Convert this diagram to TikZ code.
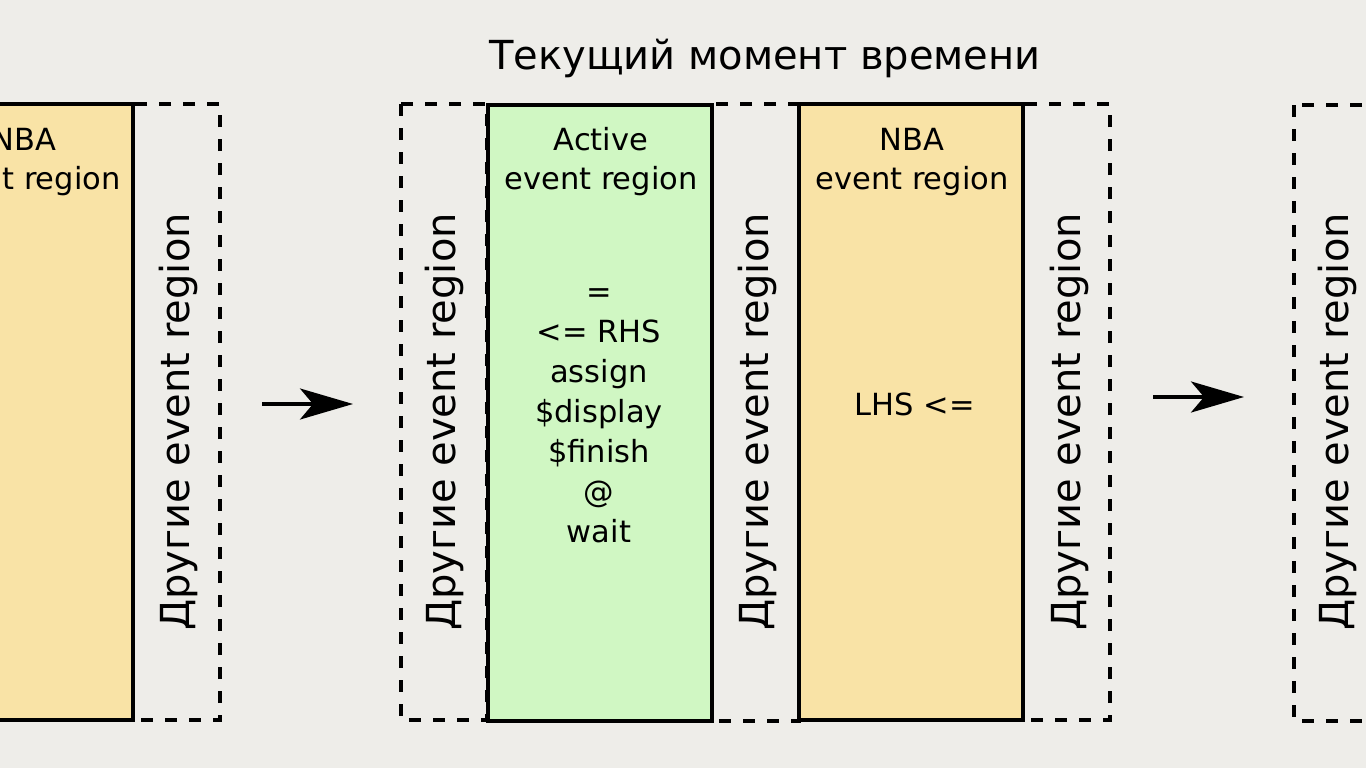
\documentclass[tikz,border=0pt]{standalone}
\usepackage{fontspec}
\setmainfont{DejaVu Sans}
\usetikzlibrary{arrows.meta}
\definecolor{bgc}{HTML}{EEEDE9}
\definecolor{greenc}{HTML}{D0F7C3}
\definecolor{orangec}{HTML}{F9E3A6}
\begin{document}
\begin{tikzpicture}[x=1pt,y=-1pt,
  dashbox/.style={draw, dash pattern=on 12pt off 12pt, line width=3.2pt, fill=none},
  solidbox/.style={draw, line width=3.2pt},
  txt/.style={anchor=base, inner sep=0pt, font=\fontsize{30.5}{36}\selectfont},
  vtxt/.style={anchor=base, inner sep=0pt, rotate=90, font=\fontsize{40}{48}\selectfont},
  arr/.style={line width=3.4pt, -{Stealth[length=53pt,width=31pt,inset=13pt]}}]
\useasboundingbox (0,0) rectangle (1366,768);
\clip (0,0) rectangle (1366,768);
\fill[bgc] (0,0) rectangle (1366,768);
% dashed regions
\draw[dashbox] (133,104) rectangle (220,720) node[pos=0.5] (d0) {};
\draw[dashbox] (401,104) rectangle (487,720) node[pos=0.5] (d1) {};
\draw[dashbox] (712,104) rectangle (799,721) node[pos=0.5] (d2) {};
\draw[dashbox] (1023,104) rectangle (1110,720) node[pos=0.5] (d3) {};
\draw[dashbox] (1294,105) rectangle (1420,721) node[pos=0.5] (d4) {};
% solid regions
\draw[solidbox, fill=orangec] (-91,104) rectangle (133,720) node[pos=0.5] (n0) {};
\draw[solidbox, fill=greenc] (488,105) rectangle (712,721) node[pos=0.5] (act) {};
\draw[solidbox, fill=orangec] (799,104) rectangle (1023,720) node[pos=0.5] (n1) {};
% title
\node[anchor=base, inner sep=0pt, font=\fontsize{40}{48}\selectfont] (title) at (765,70) {Текущий момент времени};
% left NBA
\node[txt] (n0a) at (24,150) {NBA};
\node[txt] (n0b) at (24,189) {event region};
% Active
\node[txt] (acta) at (601,150) {Active};
\node[txt] (actb) at (601,189) {event region};
\node[txt] (l1) at (599,302) {=};
\node[txt] (l2) at (599,342) {<= RHS};
\node[txt] (l3) at (599,382) {assign};
\node[txt] (l4) at (599,422) {\$display};
\node[txt] (l5) at (599,462) {\$finish};
\node[txt] (l6) at (599,502) {@};
\node[txt] (l7) at (599,542) {wait};
% NBA
\node[txt] (n1a) at (912,150) {NBA};
\node[txt] (n1b) at (912,189) {event region};
\node[txt] (n1c) at (915,415) {LHS <=};
% vertical labels
\node[vtxt] (v0) at (189,422) {Другие event region};
\node[vtxt] (v1) at (455,422) {Другие event region};
\node[vtxt] (v2) at (768,422) {Другие event region};
\node[vtxt] (v3) at (1080,422) {Другие event region};
\node[vtxt] (v4) at (1348,422) {Другие event region};
% arrows
\coordinate (a1s) at (262,404);
\coordinate (a1e) at (353,404);
\coordinate (a2s) at (1153,397);
\coordinate (a2e) at (1244,397);
\draw[arr] (a1s) -- (a1e);
\draw[arr] (a2s) -- (a2e);
\end{tikzpicture}
\end{document}
